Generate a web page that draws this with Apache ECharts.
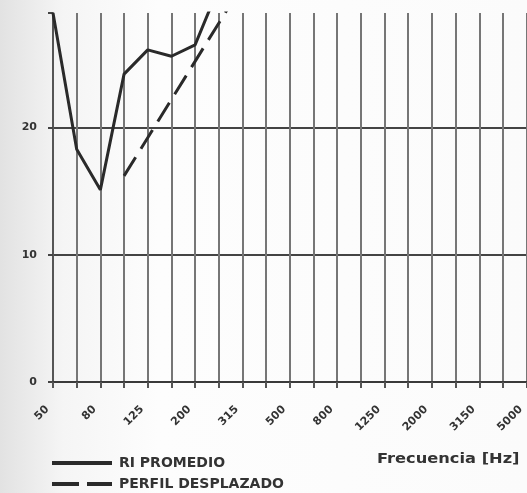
<!DOCTYPE html>
<html>
<head>
<meta charset="utf-8">
<script src="https://cdn.jsdelivr.net/npm/echarts@6/dist/echarts.min.js"></script>
<style>
html,body{margin:0;padding:0;background:#fff;}
#chart{width:527px;height:493px;}
</style>
</head>
<body>
<div id="chart"></div>
<script>
// Data
var frequencies = ['50','63','80','100','125','160','200','250','315','400','500','630','800','1000','1250','1600','2000','2500','3150','4000','5000'];
var riPromedio = [29, 18.3, 15.1, 24.2, 26.1, 25.6, 26.5, 31, null, null, null, null, null, null, null, null, null, null, null, null, null];
var perfilDesplazado = [null, null, null, 16.2, 19.2, 22.2, 25.2, 28.2, 31.2, null, null, null, null, null, null, null, null, null, null, null, null];
var yTicks = [0, 10, 20];
var seriesNames = ['RI PROMEDIO', 'PERFIL DESPLAZADO'];
var xAxisTitle = 'Frecuencia [Hz]';

var chart = echarts.init(document.getElementById('chart'));
var font = 'DejaVu Sans';
var ink = '#2a2a2a';
var option = {
  backgroundColor: {
    type: 'linear', x: 0, y: 0, x2: 1, y2: 0,
    colorStops: [{offset: 0, color: '#e2e2e2'}, {offset: 0.12, color: '#f5f5f5'}, {offset: 0.3, color: '#fdfdfd'}, {offset: 1, color: '#fbfbfb'}]
  },
  animation: false,
  grid: {left: 53, right: 0, top: 13, bottom: 111, containLabel: false},
  xAxis: {
    type: 'category',
    data: frequencies,
    boundaryGap: false,
    axisLine: {show: true, lineStyle: {color: '#3a3a3a', width: 2}},
    axisTick: {show: true, interval: 0, length: 6, lineStyle: {color: '#555', width: 2}},
    splitLine: {show: true, interval: 0, lineStyle: {color: '#767676', width: 2}},
    axisLabel: {
      interval: 1, rotate: 45, margin: 20, padding: [0, 8, 0, 0],
      fontFamily: font, fontWeight: 'bold', fontSize: 11, color: '#333'
    }
  },
  yAxis: {
    type: 'value',
    min: 0, max: 29, interval: 10,
    axisLine: {show: true, lineStyle: {color: '#555', width: 2}},
    axisTick: {show: true, length: 5, lineStyle: {color: '#444', width: 2}},
    splitLine: {show: true, lineStyle: {color: ['#444', '#444', '#444', 'rgba(0,0,0,0)'], width: 2}},
    axisLabel: {
      margin: 16, fontFamily: font, fontWeight: 'bold', fontSize: 11, color: '#333',
      formatter: function (v) { return yTicks.indexOf(v) >= 0 ? String(v) : ''; }
    }
  },
  legend: {
    orient: 'vertical', left: 50, top: 456, itemGap: 7, padding: 0,
    itemWidth: 60, itemHeight: 10,
    data: [
      {name: seriesNames[0], lineStyle: {width: 4}},
      {name: seriesNames[1], lineStyle: {width: 4, type: [27, 8]}}
    ],
    textStyle: {fontFamily: font, fontWeight: 'bold', fontSize: 14, color: '#333', padding: [0, 0, 0, 2]}
  },
  graphic: [{
    type: 'text', x: 377, y: 452, scaleX: 1.16,
    style: {text: xAxisTitle, font: 'bold 14px "DejaVu Sans"', fill: '#333'}
  }],
  series: [{
    name: seriesNames[0], type: 'line', data: riPromedio,
    symbol: 'none', connectNulls: false,
    lineStyle: {color: ink, width: 3, type: 'solid'},
    itemStyle: {color: ink, opacity: 0}
  }, {
    name: seriesNames[1], type: 'line', data: perfilDesplazado,
    symbol: 'none',
    lineStyle: {color: ink, width: 3, type: [22, 10]},
    itemStyle: {color: ink, opacity: 0}
  }]
};
chart.setOption(option);
</script>
</body>
</html>
